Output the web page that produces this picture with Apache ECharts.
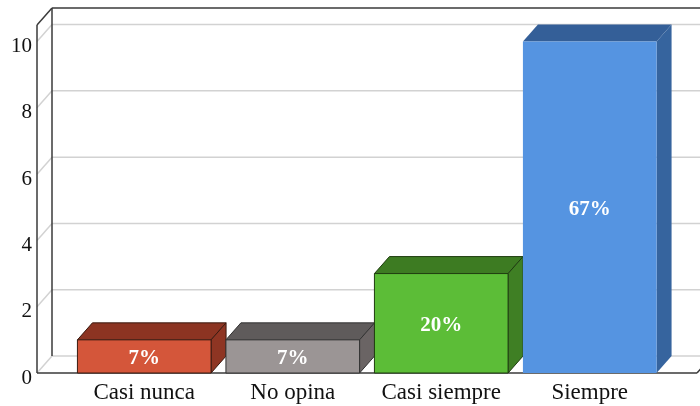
<!DOCTYPE html>
<html>
<head>
<meta charset="utf-8">
<script src="https://cdn.jsdelivr.net/npm/echarts@6/dist/echarts.min.js"></script>
<style>
  html, body { margin: 0; padding: 0; background: #ffffff; }
  #chart { width: 700px; height: 406px; }
</style>
</head>
<body>
<div id="chart"></div>
<script>
// Survey answers: number of respondents per option
const categories = ['Casi nunca', 'No opina', 'Casi siempre', 'Siempre'];
const counts = [1, 1, 3, 10];
const percentLabels = ['7%', '7%', '20%', '67%'];
const yTicks = [0, 2, 4, 6, 8, 10];

// Face colours for each box: front, top, side, outline
const faceFront = ['#D4563A', '#9B9595', '#5CBD37', '#5594E1'];
const faceTop   = ['#8C3422', '#5F5B5B', '#3D7B22', '#345F98'];
const faceSide  = ['#8E3523', '#6A6464', '#3F7F24', '#36649E'];
const faceEdge  = ['#3a1a10', '#333333', '#1f3d10', 'rgba(0,0,0,0)'];

// Oblique projection of the depth axis (pixels)
const DX = 15, DY = 17;
const FLOOR_PAD = 33;   // floor/wall overhang beyond the outer category bands
const SERIF = '"Liberation Serif", "Times New Roman", serif';

const chart = echarts.init(document.getElementById('chart'), null, { renderer: 'canvas' });

function wallItem(params, api) {
  const cs = params.coordSys;
  const L = cs.x - FLOOR_PAD, R = cs.x + cs.width + FLOOR_PAD;
  const T = cs.y, B = cs.y + cs.height;
  const dark = { stroke: '#3a3a3a', lineWidth: 1.5 };
  const grid = { stroke: '#d2d2d2', lineWidth: 1.5 };
  const line = (x1, y1, x2, y2, st) => ({ type: 'line', shape: { x1, y1, x2, y2 }, style: st, silent: true });
  const children = [];
  yTicks.forEach(t => {
    const y = api.coord([0, t])[1];
    children.push(line(L + DX, y - DY, R + DX, y - DY, grid));
    children.push(line(L, y, L + DX, y - DY, grid));
  });
  children.push(line(L, T, L, B, dark));
  children.push(line(L + DX, T - DY, L + DX, B - DY, dark));
  children.push(line(L, T, L + DX, T - DY, dark));
  children.push(line(L + DX, T - DY, R + DX + 40, T - DY, dark));
  children.push(line(L, B, R, B, dark));
  children.push(line(R, B, R + DX, B - DY, dark));
  return { type: 'group', children };
}

function boxItem(params, api) {
  const i = params.dataIndex;
  const top = api.coord([api.value(0), api.value(1)]);
  const base = api.coord([api.value(0), 0]);
  const w = api.size([1, 0])[0] * 0.9;
  const x0 = top[0] - w / 2, x1 = top[0] + w / 2;
  const yT = top[1], yB = base[1];
  const edge = { stroke: faceEdge[i], lineWidth: 1 };
  return {
    type: 'group',
    children: [
      { type: 'polygon', shape: { points: [[x0, yT], [x0 + DX, yT - DY], [x1 + DX, yT - DY], [x1, yT]] },
        style: Object.assign({ fill: faceTop[i] }, edge) },
      { type: 'polygon', shape: { points: [[x1, yT], [x1 + DX, yT - DY], [x1 + DX, yB - DY], [x1, yB]] },
        style: Object.assign({ fill: faceSide[i] }, edge) },
      { type: 'rect', shape: { x: x0, y: yT, width: w, height: yB - yT },
        style: Object.assign({ fill: faceFront[i] }, edge) },
      { type: 'text', x: top[0], y: (yT + yB) / 2 + 2,
        style: { text: percentLabels[i], fill: '#ffffff', font: 'bold 21px ' + SERIF,
                 align: 'center', verticalAlign: 'middle' } }
    ]
  };
}

chart.setOption({
  animation: false,
  backgroundColor: '#ffffff',
  grid: { left: 70, right: 36, top: 25, bottom: 33, containLabel: false },
  xAxis: {
    type: 'category',
    data: categories,
    axisLine: { show: false },
    axisTick: { show: false },
    axisLabel: { color: '#111111', fontFamily: SERIF, fontSize: 23, margin: 8, interval: 0 }
  },
  yAxis: {
    type: 'value',
    min: 0,
    max: 10.5,
    interval: 2,
    axisLine: { show: false },
    axisTick: { show: false },
    splitLine: { show: false },
    axisLabel: {
      color: '#111111', fontFamily: SERIF, fontSize: 21, margin: 38,
      verticalAlign: 'top', lineHeight: 10,
      formatter: v => (yTicks.includes(v) ? String(v) : '')
    }
  },
  series: [
    { type: 'custom', renderItem: wallItem, data: [[0, 0]], clip: false, silent: true, z: 1 },
    { type: 'custom', renderItem: boxItem, clip: false, z: 2,
      data: categories.map((c, i) => [i, counts[i]]) }
  ]
});
</script>
</body>
</html>
